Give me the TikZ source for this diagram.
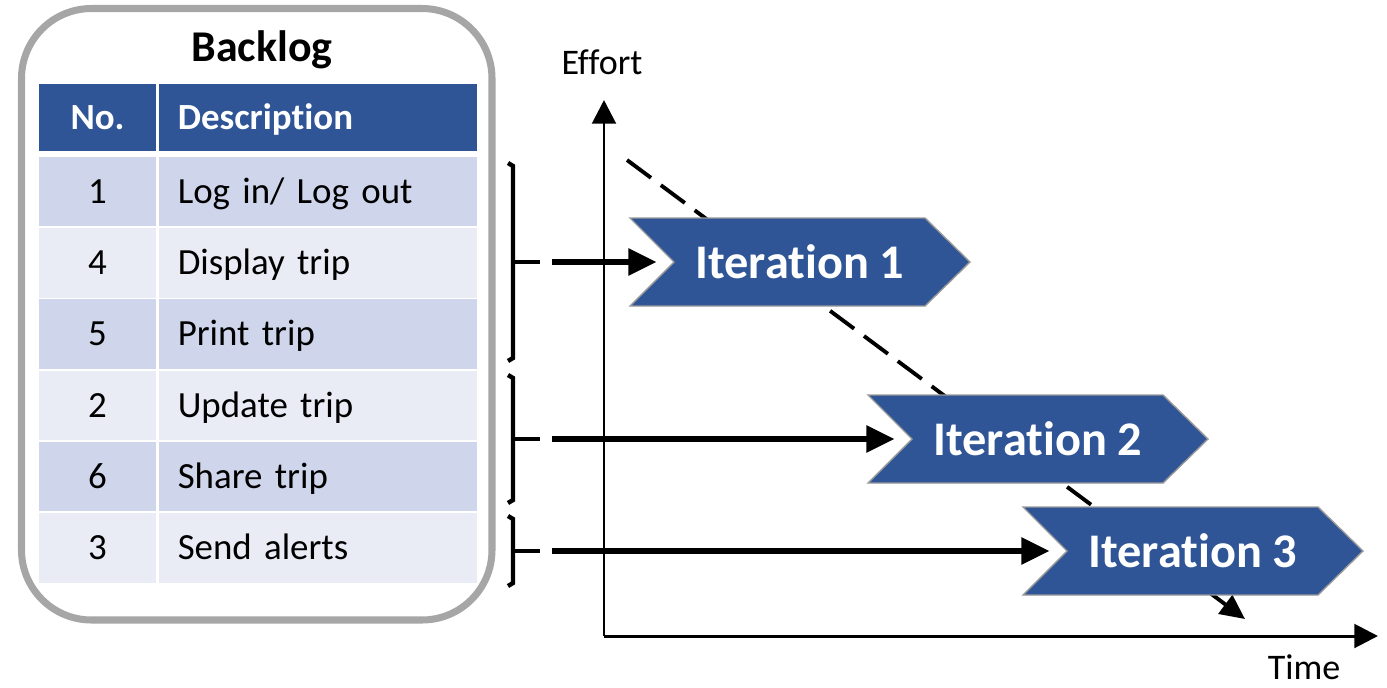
\documentclass[tikz,border=0pt]{standalone}
\usepackage{fontspec}
\setmainfont{Carlito}[Ligatures={NoCommon,NoContextual,NoRare}, Contextuals=NoAlternate]
\usetikzlibrary{arrows.meta}
\definecolor{hdrblue}{HTML}{2F5597}
\definecolor{rowdark}{HTML}{CFD5EA}
\definecolor{rowlight}{HTML}{E9EBF5}
\definecolor{boxgray}{HTML}{A6A6A6}

\begin{document}
\begin{tikzpicture}[x=0.02cm, y=-0.02cm,
    frame/.style={draw=boxgray, line width=4pt, rounded corners=1.4cm},
    cell/.style={inner sep=0pt, text height=16.5pt, text depth=3pt, font=\fontsize{21}{25}\selectfont},
    nocell/.style={cell, minimum width=2.34cm, minimum height=1.39cm},
    desccell/.style={cell, minimum height=1.39cm, text width=5.6cm, inner xsep=0.385cm, align=left},
    hdr/.style={fill=hdrblue, text=white, font=\bfseries\fontsize{21}{25}\selectfont},
    axis/.style={line width=1.7pt, -{Triangle[length=13.5pt,width=13.5pt]}},
    axlabel/.style={font=\fontsize{20.5}{24}\selectfont, inner sep=1pt},
    trend/.style={line width=2.2pt, dash pattern=on 17pt off 7pt, -{Triangle[length=14pt,width=13pt]}},
    brk/.style={line width=2.5pt},
    conn/.style={line width=3pt, -{Triangle[length=16pt,width=15pt]}, shorten >=10pt},
    chev/.style={fill=hdrblue, draw=gray!80, line width=0.8pt},
    chevtxt/.style={text=white, font=\bfseries\fontsize{27.5}{32}\selectfont}]
    \useasboundingbox (0,0) rectangle (1387,687);

    % Backlog
    \draw[frame] (21.5,8.5) rectangle (492,620);
    \node at (262,50) (title) [font=\bfseries\fontsize{25}{30}\selectfont] {Backlog};
    \node at (97.5,117.5) (hno) [nocell, hdr, minimum height=1.34cm] {No.};
    \node at (317.75,117.5) (hdesc) [desccell, hdr, minimum height=1.34cm] {Description};
    \foreach \num/\desc/\col [count=\i] in {1/{Log in/ Log out}/rowdark, 4/Display trip/rowlight,
        5/Print trip/rowdark, 2/Update trip/rowlight, 6/Share trip/rowdark, 3/Send alerts/rowlight} {
        \node at (97.5,{191.5+71.3*(\i-1)}) (no\i) [nocell, fill=\col] {\num};
        \node at (317.75,{191.5+71.3*(\i-1)}) (desc\i) [desccell, fill=\col] {\desc};
    }

    % Eixos
    \coordinate (orig) at (604,636);
    \coordinate (ytop) at (604,100);
    \coordinate (xend) at (1378,636);
    \draw[axis] (orig) -- (ytop);
    \draw[axis] (orig) -- (xend);
    \node at (602,62) (effort) [axlabel] {Effort};
    \node at (1304,667) (time) [axlabel] {Time};
    \coordinate (dstart) at (627,160);
    \coordinate (dend) at (1245,619);
    \draw[trend] (dstart) -- (dend);

    % Chaves
    \foreach \n/\ya/\ym/\yb in {1/163/262/361, 2/375/439/503, 3/516/551/586} {
        \draw[brk] (508,\ya) -- (513,\ya+3) -- (513,\yb-3) -- (508,\yb);
        \draw[brk] (513,\ym) -- (540,\ym);
        \coordinate (b\n) at (552,\ym);
    }

    % Iteracoes
    \foreach \n/\xl/\yc in {1/630/262, 2/868/439, 3/1023/551} {
        \draw[chev] (\xl,\yc-44) -- ++(295,0) -- ++(45,44) -- ++(-45,44) -- ++(-295,0) -- ++(44,-44) -- cycle;
        \node at (\xl+170,\yc) (it\n) [chevtxt] {Iteration \n};
        \coordinate (it\n in) at (\xl+44,\yc);
        \draw[conn] (b\n) -- (it\n in);
    }
\end{tikzpicture}
\end{document}
